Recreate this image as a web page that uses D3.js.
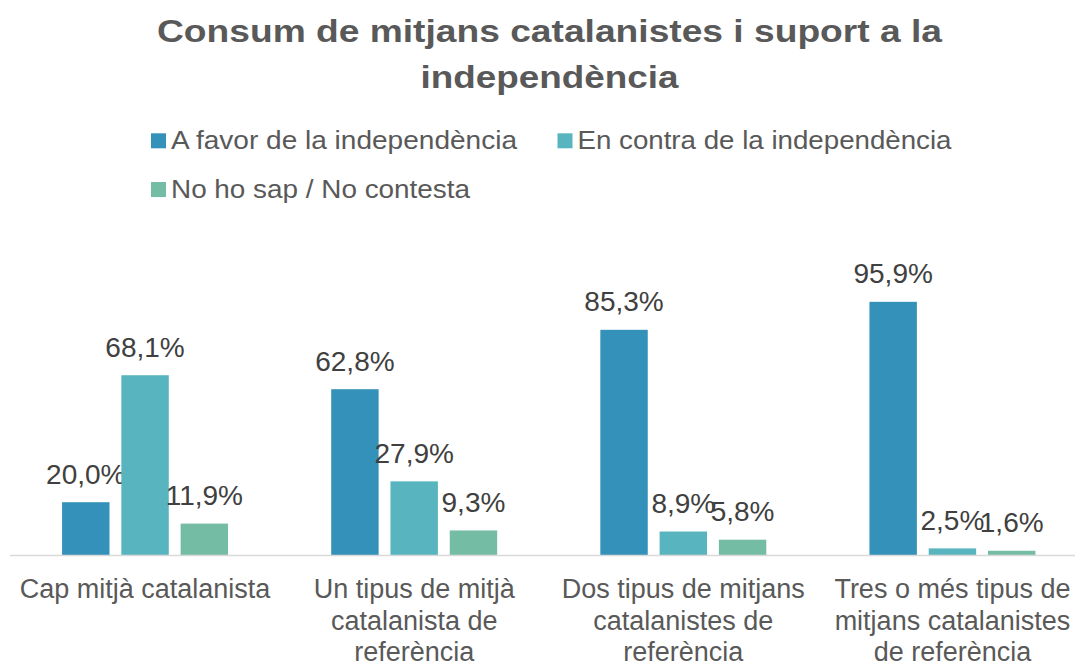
<!DOCTYPE html>
<html>
<head>
<meta charset="utf-8">
<script src="https://cdn.jsdelivr.net/npm/d3@7/dist/d3.min.js"></script>
<style>
  html, body { margin: 0; padding: 0; background: #ffffff; }
  svg { display: block; font-family: "Liberation Sans", Arial, sans-serif; }
</style>
</head>
<body>
<svg id="chart" width="1075" height="663"></svg>
<script>
const titleLines = ["Consum de mitjans catalanistes i suport a la", "independència"];
const categories = [
  ["Cap mitjà catalanista"],
  ["Un tipus de mitjà", "catalanista de", "referència"],
  ["Dos tipus de mitjans", "catalanistes de", "referència"],
  ["Tres o més tipus de", "mitjans catalanistes", "de referència"]
];
const seriesNames = ["A favor de la independència", "En contra de la independència", "No ho sap / No contesta"];
const seriesColors = ["#3492ba", "#58b5bf", "#74bda4"];
const aFavor   = [20.0, 62.8, 85.3, 95.9];
const enContra = [68.1, 27.9, 8.9, 2.5];
const noSap    = [11.9, 9.3, 5.8, 1.6];
const seriesValues = [aFavor, enContra, noSap];

const svg = d3.select("#chart");

// Title
const titleWidths = [785, 258];
svg.append("g").selectAll("text").data(titleLines).join("text")
  .attr("x", 549.5)
  .attr("y", (d, i) => 42 + i * 45.5)
  .attr("text-anchor", "middle")
  .attr("font-size", 31)
  .attr("font-weight", "bold")
  .attr("fill", "#595959")
  .attr("textLength", (d, i) => titleWidths[i])
  .attr("lengthAdjust", "spacingAndGlyphs")
  .text(d => d);

// Legend
const legendPos = [{x: 151, y: 149.3, w: 346}, {x: 557.5, y: 149.3, w: 374}, {x: 151, y: 198, w: 299}];
const lg = svg.append("g").selectAll("g").data(seriesNames).join("g")
  .attr("transform", (d, i) => `translate(${legendPos[i].x},${legendPos[i].y})`);
lg.append("rect").attr("x", 0).attr("y", -16).attr("width", 15).attr("height", 15)
  .attr("fill", (d, i) => seriesColors[i]);
lg.append("text").attr("x", 20).attr("y", 0)
  .attr("font-size", 25).attr("fill", "#595959")
  .attr("textLength", (d, i) => legendPos[i].w)
  .attr("lengthAdjust", "spacingAndGlyphs")
  .text(d => d);

// Scales
const idx = d3.range(categories.length);
const x0 = d3.scaleBand().domain(idx).range([10.5, 1087]).padding(0);
const x1 = d3.scaleBand().domain(d3.range(seriesNames.length)).range([0, x0.bandwidth()])
  .paddingInner(0.2).paddingOuter(0.87);
const y = d3.scaleLinear().domain([0, 100]).range([555, 291]);

// Bars
const groups = svg.append("g").selectAll("g").data(idx).join("g")
  .attr("transform", c => `translate(${x0(c)},0)`);

const cells = groups.selectAll("g.cell")
  .data(c => seriesValues.map((vals, s) => ({s, v: vals[c]})))
  .join("g").attr("class", "cell");

cells.append("rect")
  .attr("x", d => x1(d.s))
  .attr("y", d => y(d.v))
  .attr("width", x1.bandwidth())
  .attr("height", d => y(0) - y(d.v))
  .attr("fill", d => seriesColors[d.s]);

cells.append("text")
  .attr("x", d => x1(d.s) + x1.bandwidth() / 2)
  .attr("y", d => y(d.v) - 18.5)
  .attr("text-anchor", "middle")
  .attr("font-size", 28)
  .attr("fill", "#404040")
  .text(d => d.v.toFixed(1).replace(".", ",") + "%");

// Axis baseline
svg.append("line")
  .attr("x1", 10).attr("x2", 1075)
  .attr("y1", y(0) + 0.5).attr("y2", y(0) + 0.5)
  .attr("stroke", "#d9d9d9").attr("stroke-width", 1.5);

// Category labels
const catG = svg.append("g").selectAll("text").data(idx).join("text")
  .attr("text-anchor", "middle")
  .attr("font-size", 27)
  .attr("fill", "#595959");
catG.selectAll("tspan").data(c => categories[c].map(t => ({c, t})))
  .join("tspan")
  .attr("x", d => x0(d.c) + x0.bandwidth() / 2)
  .attr("y", (d, i) => 598 + i * 31.5)
  .text(d => d.t);
</script>
</body>
</html>
